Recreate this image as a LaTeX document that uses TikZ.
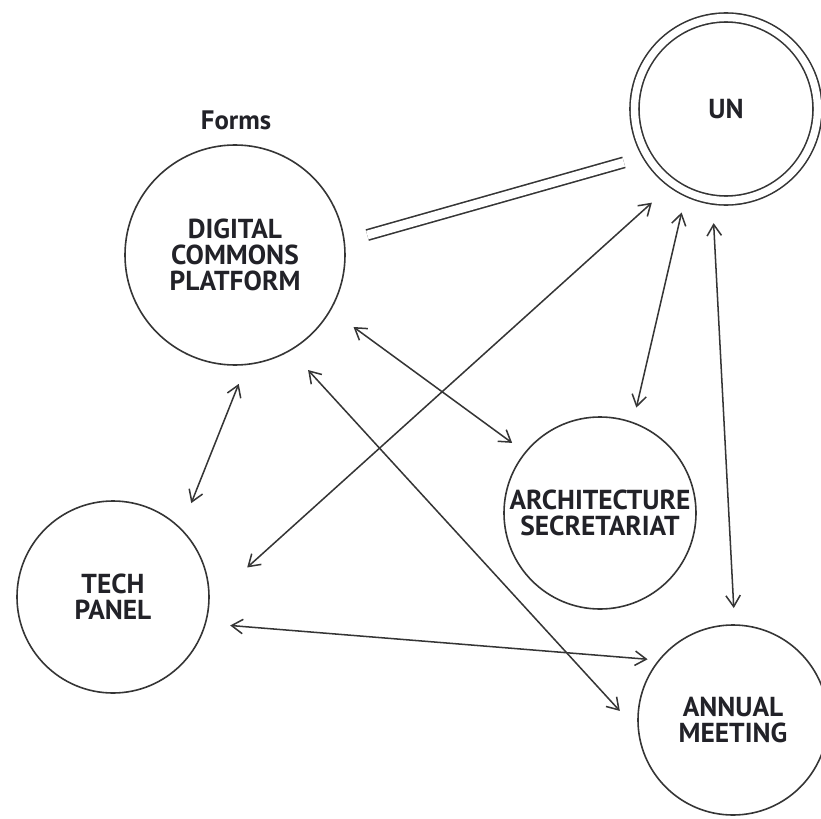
\documentclass[tikz,border=0pt]{standalone}
\usepackage{fontspec}
\setmainfont{PT Sans}
\usetikzlibrary{arrows.meta}
\definecolor{ink}{HTML}{353535}
\definecolor{txt}{HTML}{222228}

\begin{document}
\begin{tikzpicture}[x=0.25mm,y=-0.25mm,
    body/.style={circle, draw=ink, line width=0.4mm, inner sep=0pt, outer sep=0pt,
        align=center, text=txt, font=\bfseries\fontsize{19.5}{18.5}\selectfont},
    link/.style={draw=ink, line width=0.38mm,
        {Straight Barb[length=2.8mm,width=3.6mm]}-{Straight Barb[length=2.8mm,width=3.6mm]}}]
    \useasboundingbox (0,0) rectangle (821,819);

    \node[body, minimum size=55mm] at (235,255)   (dcp) {DIGITAL\\COMMONS\\PLATFORM};
    \node[body, double, double distance=1.85mm, minimum size=45.75mm, outer sep=1.15mm]
                                   at (726,109)   (un)  {UN};
    \node[body, minimum size=48mm] at (600,513)   (as)  {ARCHITECTURE\\SECRETARIAT};
    \node[body, minimum size=48mm] at (113,597)   (tp)  {TECH\\PANEL};
    \node[body, minimum size=47.5mm] at (733,720) (am)  {ANNUAL\\MEETING};
    \node[text=txt, font=\bfseries\fontsize{19}{21}\selectfont] at (236,120) (forms) {Forms};

    \draw[draw=ink, line width=0.4mm, double, double distance=2.2mm,
          shorten <=6mm, shorten >=4.9mm] (dcp.7.9) -- (un.210.5);
    \draw[link, shorten <=5.25mm, shorten >=7mm]    (dcp.-84.4) -- (tp.45.1);
    \draw[link, shorten <=7.2mm, shorten >=4.1mm]   (dcp.-30.6) -- (as.141);
    \draw[link, shorten <=6.7mm, shorten >=7mm]     (dcp.-60)   -- (am.187.7);
    \draw[link, shorten <=12.9mm, shorten >=5.95mm] (tp.-3.4)   -- (un.-126.7);
    \draw[link, shorten <=4.2mm, shorten >=3.9mm]   (un.-115.5) -- (as.70.8);
    \draw[link, shorten <=4.75mm, shorten >=4.25mm] (un.-98.4)  -- (am.89.5);
    \draw[link, shorten <=6.25mm, shorten >=2.9mm]  (tp.-16.3)  -- (am.141.5);
\end{tikzpicture}
\end{document}
